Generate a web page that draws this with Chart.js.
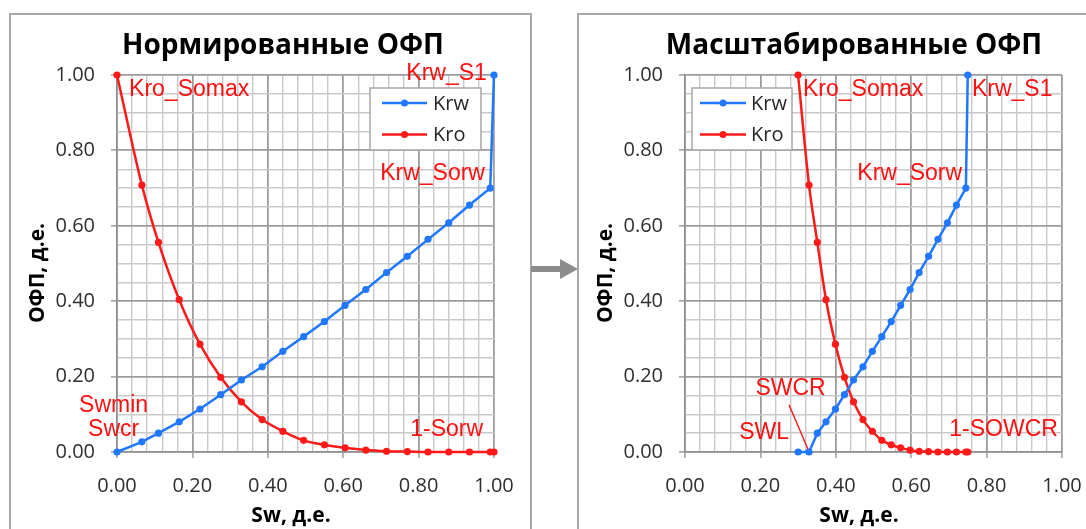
<!DOCTYPE html>
<html>
<head>
<meta charset="utf-8">
<script src="https://cdn.jsdelivr.net/npm/chart.js@4.4.1/dist/chart.umd.min.js"></script>
<style>
html,body{margin:0;padding:0;background:#fff;overflow:hidden;width:1086px;height:529px;}
.frame{position:absolute;border:2px solid #a8a8a8;box-sizing:border-box;}
canvas{position:absolute;}
</style>
</head>
<body>
<div class="frame" style="left:9px;top:13px;width:523px;height:600px"></div>
<div class="frame" style="left:577px;top:13px;width:523px;height:600px"></div>
<svg style="position:absolute;left:0;top:0" width="1086" height="529">
  <polygon points="531,266 560,266 560,259 578,269 560,279 560,272 531,272" fill="#8c8c8c"/>
</svg>
<canvas id="c1" width="521" height="530" style="left:10px;top:14px"></canvas>
<canvas id="c2" width="521" height="530" style="left:578px;top:14px"></canvas>
<script>
// ---------- data ----------
const swNormalized  = [0, 0.066, 0.11, 0.165, 0.22, 0.275, 0.33, 0.385, 0.44, 0.495, 0.55, 0.605, 0.66, 0.715, 0.77, 0.825, 0.88, 0.935, 0.99, 1.0];
const krwNormalized = [0, 0.027, 0.05, 0.08, 0.114, 0.152, 0.191, 0.226, 0.267, 0.306, 0.346, 0.389, 0.431, 0.476, 0.519, 0.564, 0.608, 0.655, 0.70, 1.0];
const kroNormalized = [1.0, 0.708, 0.556, 0.404, 0.286, 0.198, 0.133, 0.086, 0.055, 0.031, 0.019, 0.011, 0.005, 0.002, 0.001, 0, 0, 0, 0, 0];

const swScaled  = [0.30, 0.329, 0.351, 0.374, 0.399, 0.423, 0.447, 0.472, 0.497, 0.522, 0.547, 0.572, 0.597, 0.621, 0.646, 0.671, 0.696, 0.720, 0.745, 0.75];
const krwScaled = [0, 0, 0.05, 0.08, 0.114, 0.152, 0.191, 0.226, 0.267, 0.306, 0.346, 0.389, 0.431, 0.476, 0.519, 0.564, 0.608, 0.655, 0.70, 1.0];
const kroScaled = [1.0, 0.708, 0.556, 0.404, 0.286, 0.198, 0.133, 0.086, 0.055, 0.031, 0.019, 0.011, 0.005, 0.002, 0.001, 0, 0, 0, 0, 0];

const seriesNames = ['Krw', 'Kro'];
const xTickLabels = ['0.00', '0.20', '0.40', '0.60', '0.80', '1.00'];
const yTickLabels = ['0.00', '0.20', '0.40', '0.60', '0.80', '1.00'];
const chartTitles = ['Нормированные ОФП', 'Масштабированные ОФП'];
const xAxisTitle = 'Sw, д.е.';
const yAxisTitle = 'ОФП, д.е.';

const labelsNormalized = [
  {text: 'Kro_Somax', x: 0.032, y: 0.960, align: 'left'},
  {text: 'Krw_S1',    x: 0.981, y: 1.003, align: 'right'},
  {text: 'Krw_Sorw',  x: 0.976, y: 0.737, align: 'right'},
  {text: 'Swmin',     x: -0.009, y: 0.123, align: 'center'},
  {text: 'Swcr',      x: -0.009, y: 0.058, align: 'center'},
  {text: '1-Sorw',    x: 0.971, y: 0.060, align: 'right'}
];
const labelsScaled = [
  {text: 'Kro_Somax', x: 0.313, y: 0.960, align: 'left'},
  {text: 'Krw_S1',    x: 0.761, y: 0.960, align: 'left'},
  {text: 'Krw_Sorw',  x: 0.735, y: 0.737, align: 'right'},
  {text: 'SWCR',      x: 0.280, y: 0.167, align: 'center'},
  {text: 'SWL',       x: 0.210, y: 0.052, align: 'center'},
  {text: '1-SOWCR',   x: 0.989, y: 0.058, align: 'right'}
];
const leaderScaled = [{x1: 0.276, y1: 0.125, x2: 0.326, y2: 0.008}];

// grid steps (major / minor)
const MAJOR = 0.2, X_MINOR = 0.04, Y_MINOR = 0.05;

// ---------- styling ----------
const BLUE = '#1f78ff';
const RED = '#ff1a1a';
const LABEL_RED = '#ff1010';
const isStep = (v, step) => Math.abs(v / step - Math.round(v / step)) < 1e-6;
const gridValues = (step) => {
  const out = [];
  const n = Math.round(1 / step);
  for (let i = 0; i <= n; i++) out.push({value: Math.round(i * step * 1000) / 1000});
  return out;
};

const ofpPlugin = {
  id: 'ofpText',
  afterDatasetsDraw(chart, args, o) {
    const {ctx, chartArea: ca, scales: {x, y}} = chart;
    ctx.save();
    // chart title
    ctx.fillStyle = '#000';
    ctx.textAlign = 'center';
    ctx.textBaseline = 'middle';
    ctx.font = 'bold 28px "Open Sans"';
    ctx.fillText(o.title, o.titleX, 32);
    // axis titles
    ctx.font = 'bold 21px "Open Sans"';
    ctx.fillText(xAxisTitle, 281, 502);
    ctx.save();
    ctx.translate(28, 259);
    ctx.rotate(-Math.PI / 2);
    ctx.fillText(yAxisTitle, 0, 0);
    ctx.restore();
    // red annotations
    ctx.fillStyle = LABEL_RED;
    ctx.font = '23px "Liberation Sans"';
    for (const a of o.labels) {
      ctx.textAlign = a.align;
      ctx.fillText(a.text, x.getPixelForValue(a.x), y.getPixelForValue(a.y));
    }
    ctx.strokeStyle = LABEL_RED;
    ctx.lineWidth = 1.3;
    for (const l of (o.leaders || [])) {
      ctx.beginPath();
      ctx.moveTo(x.getPixelForValue(l.x1), y.getPixelForValue(l.y1));
      ctx.lineTo(x.getPixelForValue(l.x2), y.getPixelForValue(l.y2));
      ctx.stroke();
    }
    // legend box
    const lg = o.legend;
    const bx = ca.left + lg.left, by = ca.top + 13, bw = lg.width, bh = 62;
    ctx.fillStyle = '#fff';
    ctx.fillRect(bx, by, bw, bh);
    ctx.strokeStyle = '#a6a6a6';
    ctx.lineWidth = 1.5;
    ctx.strokeRect(bx, by, bw, bh);
    ctx.font = '20px "Open Sans"';
    ctx.textAlign = 'left';
    ctx.textBaseline = 'middle';
    chart.data.datasets.forEach((ds, i) => {
      const yy = by + 15 + i * 31.5;
      ctx.strokeStyle = ds.borderColor;
      ctx.lineWidth = 2.5;
      ctx.beginPath();
      ctx.moveTo(bx + lg.lineStart, yy);
      ctx.lineTo(bx + lg.lineEnd, yy);
      ctx.stroke();
      ctx.fillStyle = ds.borderColor;
      ctx.beginPath();
      ctx.arc(bx + (lg.lineStart + lg.lineEnd) / 2, yy, 3.5, 0, Math.PI * 2);
      ctx.fill();
      ctx.fillStyle = '#262626';
      ctx.fillText(ds.label, bx + lg.textStart, yy + 1);
    });
    ctx.restore();
  }
};

function makeChart(id, sw, krw, kro, cfg) {
  const ds = (label, vals, color, smooth) => ({
    label,
    data: sw.map((s, i) => ({x: s, y: vals[i]})),
    borderColor: color,
    backgroundColor: color,
    pointBackgroundColor: color,
    pointBorderColor: color,
    pointBorderWidth: 0,
    pointRadius: 3.6,
    borderWidth: 2.5,
    tension: 0,
    cubicInterpolationMode: smooth ? 'monotone' : 'default',
    clip: false
  });
  const major = c => c.tick && isStep(c.tick.value, MAJOR);
  const grid = {
    color: c => major(c) ? '#9c9c9c' : '#c9c9c9',
    lineWidth: c => major(c) ? 1.8 : 1.4,
    tickColor: c => major(c) ? '#9c9c9c' : 'rgba(0,0,0,0)',
    tickWidth: 1.5,
    tickLength: 6,
    drawTicks: true
  };
  return new Chart(document.getElementById(id), {
    type: 'line',
    data: {datasets: [ds(seriesNames[0], krw, BLUE, false), ds(seriesNames[1], kro, RED, true)]},
    options: {
      responsive: false,
      animation: false,
      events: [],
      layout: {padding: {top: 61, right: 37, left: 0, bottom: 0}},
      plugins: {
        legend: {display: false},
        tooltip: {enabled: false},
        ofpText: cfg
      },
      scales: {
        x: {
          type: 'linear', min: 0, max: 1,
          afterBuildTicks: s => { s.ticks = gridValues(X_MINOR); },
          ticks: {
            autoSkip: false, maxRotation: 0, minRotation: 0,
            padding: 16, color: '#2e2e2e', font: {family: 'Open Sans', size: 20},
            callback: v => isStep(v, MAJOR) ? xTickLabels[Math.round(v / MAJOR)] : ' '
          },
          grid: grid,
          border: {display: true, color: '#8f8f8f', width: 1.5},
          afterFit: s => { s.height = 92; }
        },
        y: {
          type: 'linear', min: 0, max: 1,
          afterBuildTicks: s => { s.ticks = gridValues(Y_MINOR); },
          ticks: {
            autoSkip: false,
            padding: 16, color: '#2e2e2e', font: {family: 'Open Sans', size: 20},
            callback: v => isStep(v, MAJOR) ? yTickLabels[Math.round(v / MAJOR)] : ' '
          },
          grid: grid,
          border: {display: true, color: '#8f8f8f', width: 1.5},
          afterFit: s => { s.width = 107; }
        }
      }
    },
    plugins: [ofpPlugin]
  });
}

makeChart('c1', swNormalized, krwNormalized, kroNormalized, {
  title: chartTitles[0], titleX: 273, labels: labelsNormalized, leaders: [],
  legend: {left: 253, width: 111, lineStart: 12, lineEnd: 57, textStart: 63}
});
makeChart('c2', swScaled, krwScaled, kroScaled, {
  title: chartTitles[1], titleX: 276, labels: labelsScaled, leaders: leaderScaled,
  legend: {left: 7, width: 100, lineStart: 8, lineEnd: 54, textStart: 59}
});
</script>
</body>
</html>
